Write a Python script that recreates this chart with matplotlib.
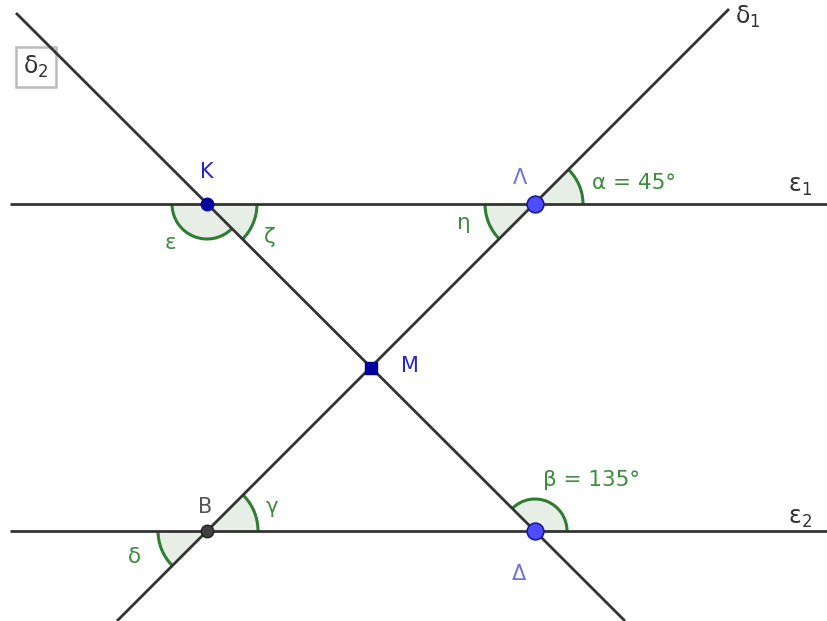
import matplotlib
matplotlib.use("Agg")
import matplotlib.pyplot as plt
from matplotlib.patches import Wedge, Arc

plt.rcParams['mathtext.default'] = 'regular'
plt.rcParams['font.family'] = ['DejaVu Sans']

# points (pixel-like coords, y up)
point_names = ["K", "Λ", "M", "B", "Δ"]
point_x = [207, 535, 371, 207, 535]
point_y = [417, 417, 253, 90, 90]

# lines: ε1, ε2, δ1, δ2 given by two end points
line_names = ["ε1", "ε2", "δ1", "δ2"]
line_x0 = [10, 10, 117, 16]
line_y0 = [417, 90, 0, 608]
line_x1 = [828, 828, 729, 625]
line_y1 = [417, 90, 612, 0]

# angles: vertex index, start, end (degrees), radius
angle_vertex = [1, 1, 0, 0, 3, 3, 4]
angle_start = [0, 180, 180, 315, 0, 180, 0]
angle_end = [45, 225, 315, 360, 45, 225, 135]
angle_radius = [48, 50, 35, 50, 51, 49, 32]

angle_labels = ["α = 45°", "η", "ε", "ζ", "γ", "δ", "β = 135°"]
angle_label_x = [592, 464, 170, 270, 272, 134, 543]
angle_label_y = [438, 398, 378, 384, 114, 64, 141]

fig = plt.figure(figsize=(8.28, 6.21), dpi=100)
ax = fig.add_axes([0, 0, 1, 1])
ax.set_xlim(0, 828)
ax.set_ylim(0, 621)
ax.axis("off")

green = "#2e7d32"
for v, a0, a1, r in zip(angle_vertex, angle_start, angle_end, angle_radius):
    cx, cy = point_x[v], point_y[v]
    ax.add_patch(Wedge((cx, cy), r, a0, a1, facecolor="#e6eee6", edgecolor="none", zorder=1))
    ax.add_patch(Arc((cx, cy), 2 * r, 2 * r, theta1=a0, theta2=a1, color=green, lw=2.2, zorder=2))

for x0, y0, x1, y1 in zip(line_x0, line_y0, line_x1, line_y1):
    ax.plot([x0, x1], [y0, y1], color="#333333", lw=2.0, solid_capstyle="butt", zorder=3)

for lab, x, y in zip(angle_labels, angle_label_x, angle_label_y):
    ha = "left" if "=" in lab else "center"
    ax.text(x, y, lab, color="#3c8c3c", fontsize=15.5, ha=ha, va="center", zorder=5)

# points
ax.plot(point_x[0], point_y[0], "o", ms=9, color="#0000a0", zorder=6)
ax.plot(point_x[2], point_y[2], "s", ms=8, color="#0000a0", zorder=6)
ax.plot(point_x[3], point_y[3], "o", ms=9, color="#404040", mec="#222222", zorder=6)
for i in (1, 4):
    ax.plot(point_x[i], point_y[i], "o", ms=12, color="#4d4dff", mec="#1a1a99", mew=1.2, zorder=6)

# point labels
ax.text(207, 449, "K", color="#2525c0", fontsize=15, ha="center", va="center")
ax.text(520, 443, "Λ", color="#6f6fe0", fontsize=15, ha="center", va="center")
ax.text(410, 255, "M", color="#2525c0", fontsize=15, ha="center", va="center")
ax.text(205, 114, "B", color="#555555", fontsize=15, ha="center", va="center")
ax.text(519, 47, "Δ", color="#6f6fe0", fontsize=15, ha="center", va="center")

# line labels
ax.text(748, 604, r"$δ_1$", color="#333333", fontsize=17, ha="center", va="center")
ax.text(800, 435, r"$ε_1$", color="#333333", fontsize=17, ha="center", va="center")
ax.text(800, 103, r"$ε_2$", color="#333333", fontsize=17, ha="center", va="center")
ax.text(36, 554, r"$δ_2$", color="#333333", fontsize=17, ha="center", va="center",
        bbox=dict(boxstyle="square,pad=0.3", facecolor="white", edgecolor="#bbbbbb", lw=1.8), zorder=2)

fig.savefig("out.png", dpi=100, facecolor="white")
